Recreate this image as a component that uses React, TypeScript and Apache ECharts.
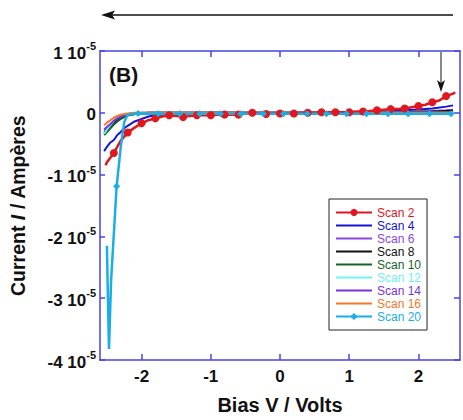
import React, { useEffect, useRef } from "react";
import * as echarts from "echarts";

// Legend / series names and colours
const scanNames = ["Scan 2", "Scan 4", "Scan 6", "Scan 8", "Scan 10", "Scan 12", "Scan 14", "Scan 16", "Scan 20"];
const scanColors = ["#e2161e", "#1414d4", "#8c46e6", "#111111", "#14642a", "#6ff2f2", "#7a32e0", "#f2782c", "#19aee6"];
const scanHasMarker = [1, 0, 0, 0, 0, 0, 0, 0, 1];

// Tick values
const xTicks = [-2, -1, 0, 1, 2];
const yTicks = [-4, -3, -2, -1, 0, 1]; // units of 1e-5 A

// Scan 2 (currents in units of 1e-5 A), markers on flagged points
const scan2V = [-2.52, -2.5, -2.4, -2.3, -2.2, -2.1, -2.0, -1.9, -1.8, -1.7, -1.6, -1.5, -1.4, -1.3, -1.2, -1.1, -1.0, -0.9, -0.8, -0.7, -0.6, -0.5, -0.4, -0.3, -0.2, -0.1, 0, 0.1, 0.2, 0.3, 0.4, 0.5, 0.6, 0.7, 0.8, 0.9, 1.0, 1.1, 1.2, 1.3, 1.4, 1.5, 1.6, 1.7, 1.8, 1.9, 2.0, 2.1, 2.2, 2.3, 2.4, 2.5, 2.53];
const scan2I = [-0.85, -0.8, -0.65, -0.45, -0.32, -0.24, -0.17, -0.12, -0.09, -0.06, -0.04, -0.05, -0.07, -0.05, -0.04, -0.04, -0.04, -0.03, -0.03, -0.03, -0.03, -0.01, 0, -0.01, -0.02, -0.01, -0.01, -0.01, -0.01, 0, 0, 0, 0.01, 0.01, 0.01, 0.01, 0.01, 0.02, 0.02, 0.03, 0.04, 0.05, 0.06, 0.06, 0.07, 0.09, 0.11, 0.13, 0.17, 0.2, 0.27, 0.31, 0.33];
const scan2Marked = [0, 0, 1, 0, 1, 0, 1, 0, 1, 0, 1, 0, 1, 0, 1, 0, 1, 0, 1, 0, 1, 0, 1, 0, 1, 0, 1, 0, 1, 0, 1, 0, 1, 0, 1, 0, 1, 0, 1, 0, 1, 0, 1, 0, 1, 0, 1, 0, 1, 0, 1, 0, 0];

// Scans 4-16 share a voltage grid
const gridV = [-2.54, -2.5, -2.45, -2.4, -2.35, -2.3, -2.25, -2.2, -2.1, -2.0, -1.9, -1.8, -1.6, -1.4, -1.0, -0.5, 0, 0.5, 1.0, 1.4, 1.6, 1.8, 2.0, 2.2, 2.4, 2.5];
const scan4I = [-0.62, -0.55, -0.48, -0.44, -0.36, -0.31, -0.25, -0.21, -0.14, -0.1, -0.06, -0.04, -0.02, -0.01, 0, 0, 0, 0, 0.005, 0.015, 0.025, 0.04, 0.055, 0.07, 0.1, 0.12];
const scan6I = [-0.3, -0.26, -0.21, -0.16, -0.12, -0.09, -0.06, -0.04, -0.02, -0.01, -0.005, 0, 0, 0, 0, 0, 0, 0, 0, 0.005, 0.01, 0.015, 0.02, 0.03, 0.04, 0.05];
const scan8I = [-0.33, -0.28, -0.22, -0.17, -0.13, -0.09, -0.06, -0.04, -0.02, -0.01, 0, 0, 0, 0, 0, 0, 0, 0, 0, 0, 0.005, 0.01, 0.015, 0.02, 0.03, 0.035];
const scan10I = [-0.36, -0.31, -0.25, -0.19, -0.14, -0.1, -0.07, -0.04, -0.02, -0.01, 0, 0, 0, 0, 0, 0, 0, 0, 0, 0, 0, 0, 0, 0, 0, 0];
const scan12I = [-0.34, -0.27, -0.2, -0.13, -0.08, -0.05, -0.03, -0.02, -0.01, 0, 0, 0, 0, 0, 0, 0, 0, 0, 0, 0, 0, 0, 0, 0, 0, 0];
const scan14I = [-0.27, -0.23, -0.18, -0.13, -0.09, -0.06, -0.04, -0.02, -0.01, 0, 0, 0, 0, 0, 0, 0, 0, 0, 0, 0, 0, 0, 0, 0, 0, 0];
const scan16I = [-0.2, -0.16, -0.12, -0.08, -0.05, -0.03, -0.02, -0.01, 0, 0, 0, 0, 0, 0, 0, 0, 0, 0, 0, 0, 0, 0, 0, 0, 0, 0];

// Scan 20
const scan20V = [-2.5, -2.49, -2.47, -2.44, -2.36, -2.3, -2.25, -2.2, -2.05, -1.76, -1.45, -1.16, -0.86, -0.57, -0.24, 0.05, 0.39, 0.67, 0.96, 1.25, 1.56, 1.85, 2.16, 2.47];
const scan20I = [-2.15, -2.75, -3.82, -2.72, -1.19, -0.55, -0.15, -0.03, -0.01, -0.015, -0.015, -0.015, -0.015, -0.015, -0.015, -0.015, -0.015, -0.015, -0.015, -0.015, -0.015, -0.015, -0.015, -0.015];
const scan20Marked = [0, 0, 0, 0, 1, 0, 0, 0, 1, 1, 1, 1, 1, 1, 1, 1, 1, 1, 1, 1, 1, 1, 1, 1];

const axisBlue = "#4646e2";
const FONT = "Liberation Sans, Arial, Helvetica, sans-serif";

function pts(v: number[], i: number[], marked?: number[]) {
  return v.map((x, k) =>
    marked && !marked[k] ? { value: [x, i[k]], symbol: "none" } : { value: [x, i[k]] }
  );
}

export default function App() {
  const ref = useRef<HTMLDivElement>(null);
  useEffect(() => {
    if (!ref.current) return;
    const chart = echarts.init(ref.current, null, { renderer: "svg" });
    const gridSeries = [scan4I, scan6I, scan8I, scan10I, scan12I, scan14I, scan16I];
    const lineSeries = gridSeries.map((arr, k) => ({
      name: scanNames[k + 1],
      type: "line",
      symbol: "none",
      data: pts(gridV, arr),
      lineStyle: { color: scanColors[k + 1], width: 2 },
      itemStyle: { color: scanColors[k + 1] },
    }));
    const option: any = {
      animation: false,
      backgroundColor: "#ffffff",
      grid: { left: 99, top: 51, width: 361, height: 317 },
      xAxis: [
        {
          type: "value",
          min: -2.6,
          max: 2.6,
          position: "bottom",
          name: "Bias V / Volts",
          nameLocation: "middle",
          nameGap: 35,
          nameTextStyle: { fontFamily: FONT, fontWeight: "bold", fontSize: 20, color: "#111" },
          axisLine: { show: true, onZero: false, lineStyle: { color: axisBlue, width: 1.5 } },
          axisTick: { show: true, inside: true, length: 6, customValues: xTicks, lineStyle: { color: axisBlue, width: 1.5 } },
          axisLabel: { customValues: xTicks, margin: 8, fontFamily: FONT, fontWeight: "bold", fontSize: 17, color: "#111" },
          splitLine: { show: false },
        },
        {
          type: "value",
          min: -2.6,
          max: 2.6,
          position: "top",
          axisLine: { show: true, onZero: false, lineStyle: { color: axisBlue, width: 1.5 } },
          axisTick: { show: true, inside: true, length: 6, customValues: xTicks, lineStyle: { color: axisBlue, width: 1.5 } },
          axisLabel: { show: false },
          splitLine: { show: false },
        },
      ],
      yAxis: [
        {
          type: "value",
          min: -4,
          max: 1,
          interval: 1,
          position: "left",
          name: "{n|Current }{i|I}{n| / Ampères}",
          nameLocation: "middle",
          nameGap: 72,
          nameRotate: 90,
          nameTextStyle: {
            rich: {
              n: { fontFamily: FONT, fontWeight: "bold", fontSize: 19.5, color: "#111" },
              i: { fontFamily: FONT, fontWeight: "bold", fontStyle: "italic", fontSize: 19.5, color: "#111" },
            },
          },
          axisLine: { show: true, onZero: false, lineStyle: { color: "#7272ee", width: 2 } },
          axisTick: { show: true, inside: true, length: 5, lineStyle: { color: axisBlue, width: 1.5 } },
          axisLabel: {
            margin: 4,
            customValues: yTicks,
            formatter: (v: number) => {
              const n = Math.round(v);
              return n === 0 ? "{b|0}" : `{b|${n} 10}{s|-5}`;
            },
            rich: {
              b: { fontFamily: FONT, fontWeight: "bold", fontSize: 17, color: "#111", lineHeight: 21, verticalAlign: "bottom" },
              s: { fontFamily: FONT, fontWeight: "bold", fontSize: 11, color: "#111", lineHeight: 21, verticalAlign: "top" },
            },
          },
          splitLine: { show: false },
        },
        {
          type: "value",
          min: -4,
          max: 1,
          interval: 1,
          position: "right",
          axisLine: { show: true, onZero: false, lineStyle: { color: axisBlue, width: 1.5 } },
          axisTick: { show: true, inside: true, length: 6, lineStyle: { color: axisBlue, width: 1.5 } },
          axisLabel: { show: false },
          splitLine: { show: false },
        },
      ],
      legend: {
        orient: "vertical",
        left: 329,
        top: 199,
        padding: [7, 6, 7, 6],
        borderColor: "#222",
        borderWidth: 1,
        backgroundColor: "#fff",
        itemWidth: 36,
        itemHeight: 9,
        itemGap: 0,
        data: scanNames.map((n, k) => ({
          name: n,
          textStyle: { color: scanColors[k] },
          itemStyle: scanHasMarker[k] ? undefined : { opacity: 0 },
        })),
        textStyle: { fontFamily: FONT, fontSize: 12, lineHeight: 13 },
      },
      series: [
        ...lineSeries,
        {
          name: scanNames[0],
          type: "line",
          symbol: "circle",
          symbolSize: 8,
          showAllSymbol: true,
          data: pts(scan2V, scan2I, scan2Marked),
          lineStyle: { color: scanColors[0], width: 2.5 },
          itemStyle: { color: scanColors[0] },
        },
        {
          name: scanNames[8],
          type: "line",
          symbol: "diamond",
          symbolSize: 7,
          showAllSymbol: true,
          data: pts(scan20V, scan20I, scan20Marked),
          lineStyle: { color: scanColors[8], width: 2.5 },
          itemStyle: { color: scanColors[8] },
        },
      ],
      graphic: [
        {
          type: "text",
          left: 109,
          top: 64,
          style: { text: "(B)", fontFamily: FONT, fontWeight: "bold", fontSize: 21, fill: "#111" },
        },
        { type: "line", shape: { x1: 110, y1: 15, x2: 453, y2: 15 }, style: { stroke: "#111", lineWidth: 1.5 } },
        { type: "polygon", shape: { points: [[101, 15], [115, 10.5], [112, 15], [115, 19.5]] }, style: { fill: "#111" } },
        { type: "line", shape: { x1: 441, y1: 52, x2: 441, y2: 84 }, style: { stroke: "#111", lineWidth: 1 } },
        { type: "polygon", shape: { points: [[441, 92], [437, 80], [441, 83], [445, 80]] }, style: { fill: "#111" } },
      ],
    };
    chart.setOption(option);
    return () => chart.dispose();
  }, []);
  return (
    <div
      ref={ref}
      style={{ position: "fixed", left: 0, top: 0, width: 463, height: 420, background: "#fff" }}
    />
  );
}
